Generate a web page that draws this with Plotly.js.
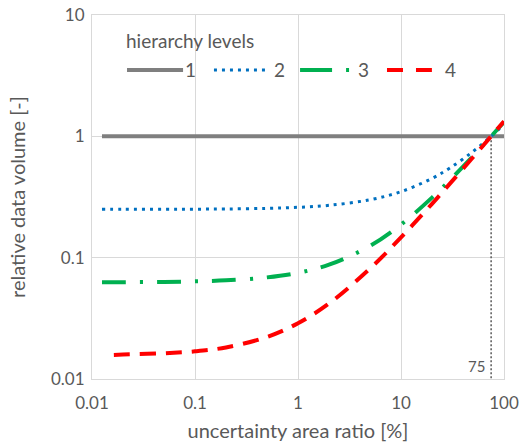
<!DOCTYPE html>
<html>
<head>
<meta charset="utf-8">
<script src="https://cdn.plot.ly/plotly-3.0.1.min.js"></script>
<style>html,body{margin:0;padding:0;background:#fff;}#chart{width:519px;height:447px;}</style>
</head>
<body>
<div id="chart"></div>
<script>
// x values: uncertainty area ratio [%]
const xLevel1 = [0.0125, 100];
const yLevel1 = [1, 1];
const xLevel2 = [0.0125, 0.02, 0.05, 0.1, 0.2, 0.5, 1, 2, 5, 10, 20, 30, 50, 75, 100];
const yLevel2 = [0.2501, 0.2502, 0.2505, 0.251, 0.252, 0.255, 0.26, 0.27, 0.30, 0.35, 0.45, 0.55, 0.75, 1.0, 1.25];
const xLevel3 = [0.0125, 0.02, 0.05, 0.1, 0.2, 0.5, 1, 2, 5, 10, 20, 30, 50, 75, 100];
const yLevel3 = [0.0627, 0.0628, 0.0631, 0.0638, 0.065, 0.0688, 0.075, 0.0875, 0.125, 0.1875, 0.3125, 0.4375, 0.6875, 1.0, 1.3125];
const xLevel4 = [0.0163, 0.02, 0.05, 0.1, 0.2, 0.5, 1, 2, 5, 10, 20, 30, 50, 75, 100];
const yLevel4 = [0.0158, 0.0159, 0.0163, 0.0169, 0.0182, 0.0222, 0.0288, 0.0419, 0.0813, 0.147, 0.278, 0.41, 0.672, 1.0, 1.33];
const markerX = 75;
const markerYTop = 1;
const markerYBottom = 0.01;
const legendLabels = ['1', '2', '3', '4'];
const xTicks = [0.01, 0.1, 1, 10, 100];
const xTickText = ['0.01', '0.1', '1', '10', '100'];
const yTicks = [0.01, 0.1, 1, 10];
const yTickText = ['0.01', '0.1', '1', '10'];

const FONT = 'Lato, "Open Sans", sans-serif';
const TXT = '#595959';
const GRID = '#d9d9d9';

const styles = [
  {color: '#7f7f7f', width: 4, dash: 'solid'},
  {color: '#0070c0', width: 3, dash: '3px,5px'},
  {color: '#00b050', width: 4, dash: '24px,14px,3px,14px'},
  {color: '#ff0000', width: 4, dash: '16px,10px'}
];
const xs = [xLevel1, xLevel2, xLevel3, xLevel4];
const ys = [yLevel1, yLevel2, yLevel3, yLevel4];

const traces = [{
  x: [markerX, markerX], y: [markerYTop, markerYBottom], mode: 'lines',
  line: {color: '#595959', width: 1.5, dash: '2px,2px'}, showlegend: false, hoverinfo: 'skip'
}];
for (let i = 0; i < 4; i++) {
  traces.push({
    x: xs[i], y: ys[i], mode: 'lines', name: legendLabels[i],
    line: {color: styles[i].color, width: styles[i].width, dash: styles[i].dash, shape: 'spline'},
    showlegend: false
  });
}

// manual legend (paper coords)
const legY = 0.849;
const legSeg = [[0.085, 0.221], [0.296, 0.427], [0.505, 0.626], [0.716, 0.825]];
const legTxtX = [0.240, 0.456, 0.660, 0.869];
const shapes = [];
const annotations = [{
  xref: 'paper', yref: 'paper', x: 0.078, y: 0.931, xanchor: 'left', yanchor: 'middle',
  text: 'hierarchy levels', showarrow: false, font: {family: FONT, size: 19, color: TXT}
}];
for (let i = 0; i < 4; i++) {
  shapes.push({type: 'line', xref: 'paper', yref: 'paper', x0: legSeg[i][0], x1: legSeg[i][1], y0: legY, y1: legY,
    line: {color: styles[i].color, width: styles[i].width, dash: i === 2 ? '32px,14px,3px,20px' : (i === 3 ? '16px,13px' : styles[i].dash)}});
  annotations.push({xref: 'paper', yref: 'paper', x: legTxtX[i], y: legY, xanchor: 'center', yanchor: 'middle',
    text: legendLabels[i], showarrow: false, font: {family: FONT, size: 19, color: TXT}});
}
annotations.push({xref: 'x', yref: 'paper', x: Math.log10(markerX), y: 0.005, xanchor: 'right', yanchor: 'bottom',
  xshift: -4, text: String(markerX), showarrow: false, font: {family: FONT, size: 15, color: TXT}});

const layout = {
  width: 519, height: 447,
  margin: {l: 92, r: 15, t: 15, b: 68},
  paper_bgcolor: '#fff', plot_bgcolor: '#fff',
  font: {family: FONT, color: TXT, size: 17},
  showlegend: false,
  xaxis: {
    type: 'log', range: [-2, 2], tickvals: xTicks, ticktext: xTickText,
    showgrid: true, gridcolor: GRID, gridwidth: 1,
    showline: true, linecolor: GRID, linewidth: 1, mirror: true,
    ticks: '', ticklabelstandoff: 9, zeroline: false, tickfont: {family: FONT, size: 17, color: TXT},
    title: {text: 'uncertainty area ratio [%]', font: {family: FONT, size: 20, color: TXT}, standoff: 11}
  },
  yaxis: {
    type: 'log', range: [-2, 1], tickvals: yTicks, ticktext: yTickText,
    showgrid: true, gridcolor: GRID, gridwidth: 1,
    showline: true, linecolor: GRID, linewidth: 1, mirror: true,
    ticks: '', ticklabelstandoff: 3, zeroline: false, tickfont: {family: FONT, size: 17, color: TXT},
    title: {text: 'relative data volume [-]', font: {family: FONT, size: 20, color: TXT}, standoff: 20}
  },
  shapes: shapes,
  annotations: annotations
};
Plotly.newPlot('chart', traces, layout, {displayModeBar: false, staticPlot: true});
</script>
</body>
</html>
